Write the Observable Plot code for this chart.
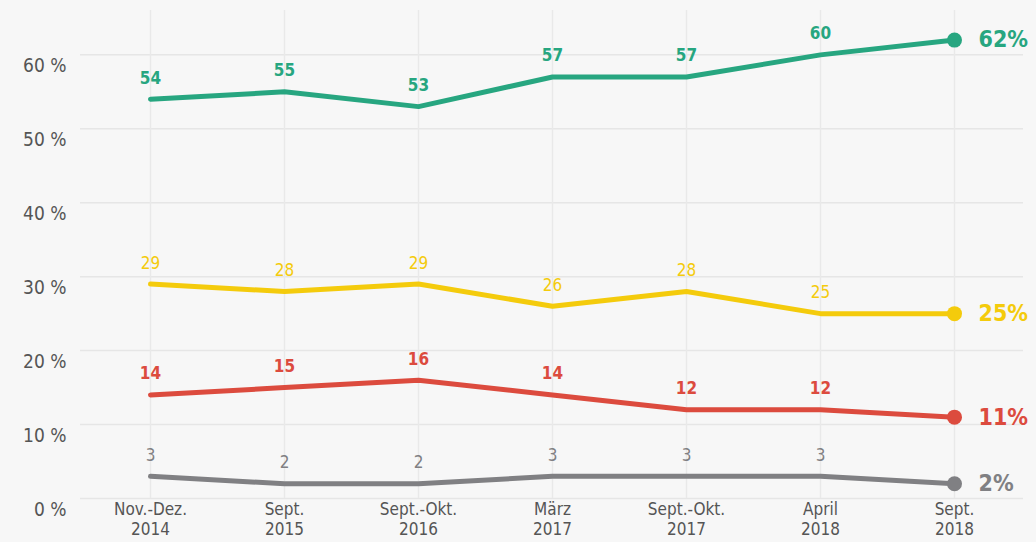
<!DOCTYPE html>
<html>
<head>
<meta charset="utf-8">
<script src="https://cdn.jsdelivr.net/npm/d3@7"></script>
<script src="https://cdn.jsdelivr.net/npm/@observablehq/plot@0.6"></script>
<style>
  html, body { margin: 0; padding: 0; background: #f7f7f7; }
  svg { display: block; }
  svg text { font-stretch: condensed; }
</style>
</head>
<body>
<div id="chart"></div>
<script>
const periods = ["Nov.-Dez.\n2014", "Sept.\n2015", "Sept.-Okt.\n2016", "März\n2017", "Sept.-Okt.\n2017", "April\n2018", "Sept.\n2018"];
const seriesNames = ["green", "yellow", "red", "grey"];
const seriesColors = ["#27a680", "#f4cb0c", "#dc4b3e", "#808083"];
const seriesWeights = ["bold", "normal", "bold", "normal"];
const greenValues = [54, 55, 53, 57, 57, 60, 62];
const yellowValues = [29, 28, 29, 26, 28, 25, 25];
const redValues = [14, 15, 16, 14, 12, 12, 11];
const greyValues = [3, 2, 2, 3, 3, 3, 2];
const yTicks = [0, 10, 20, 30, 40, 50, 60];

const allValues = [greenValues, yellowValues, redValues, greyValues];
const rows = [];
allValues.forEach((vals, si) => {
  vals.forEach((v, i) => rows.push({series: seriesNames[si], period: periods[i], value: v, idx: i, color: seriesColors[si], weight: seriesWeights[si]}));
});
const last = rows.filter(d => d.idx === periods.length - 1);
const inner = rows.filter(d => d.idx < periods.length - 1);

const font = "'DejaVu Sans Condensed', 'Liberation Sans Narrow', 'DejaVu Sans', sans-serif";

const chart = Plot.plot({
  width: 1036,
  height: 542,
  marginLeft: 80,
  marginRight: 13,
  marginTop: 10,
  marginBottom: 44,
  style: {background: "#f7f7f7", fontFamily: font},
  x: {type: "point", domain: periods, padding: 0.5, label: null},
  y: {domain: [0, 66], label: null},
  marks: [
    Plot.gridY(yTicks, {stroke: "#e6e6e6", strokeOpacity: 1, strokeWidth: 1.5}),
    Plot.gridX(periods, {stroke: "#e9e9e9", strokeOpacity: 1, strokeWidth: 1.5}),
    Plot.axisY(yTicks, {tickSize: 0, tickPadding: 14, dy: 11, tickFormat: d => d + " %", fontSize: 19, fill: "#555", label: null}),
    Plot.axisX(periods, {tickSize: 0, tickPadding: 3, fontSize: 17, fill: "#555", lineHeight: 1.15, label: null}),
    Plot.line(rows, {x: "period", y: "value", z: "series", stroke: "color", strokeWidth: 5, curve: "linear"}),
    Plot.dot(last, {x: "period", y: "value", fill: "color", r: 7.5}),
    Plot.text(inner.filter(d => d.weight === "bold"), {x: "period", y: "value", text: d => String(d.value), fill: "color", dy: -21, fontSize: 17, fontWeight: "bold"}),
    Plot.text(inner.filter(d => d.weight !== "bold"), {x: "period", y: "value", text: d => String(d.value), fill: "color", dy: -21, fontSize: 17}),
    Plot.text(last, {x: "period", y: "value", text: d => d.value + "%", fill: "color", dx: 24, textAnchor: "start", fontSize: 23, fontWeight: "bold"})
  ]
});
document.getElementById("chart").appendChild(chart);
</script>
</body>
</html>
